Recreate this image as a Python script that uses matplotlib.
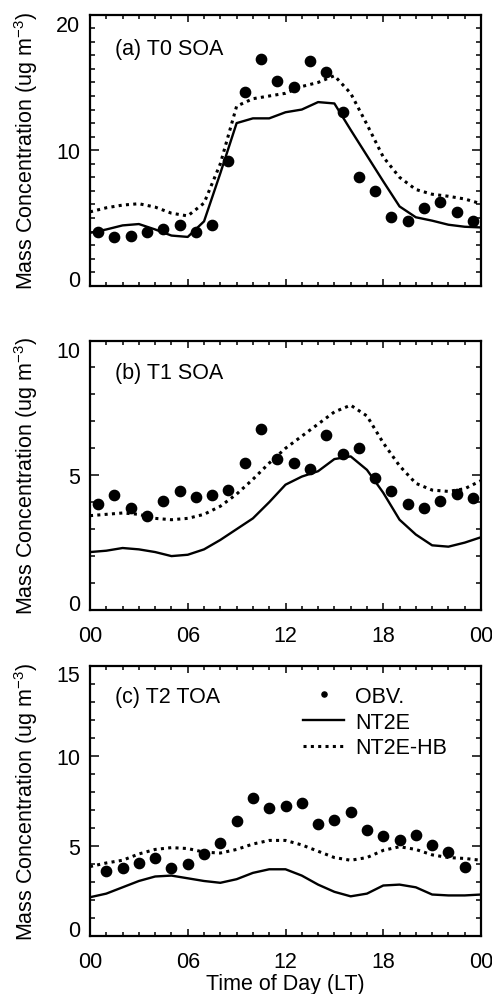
import matplotlib
matplotlib.use("Agg")
import matplotlib.pyplot as plt
import numpy as np

plt.rcParams['font.family'] = ['Liberation Sans', 'DejaVu Sans']
plt.rcParams['mathtext.fontset'] = 'custom'
plt.rcParams['mathtext.rm'] = 'Liberation Sans'
plt.rcParams['mathtext.default'] = 'regular'

# ---------------- data ----------------
hours_model = list(range(0, 25))
hours_obs_half = [h + 0.5 for h in range(24)]
hours_obs_c = list(range(1, 24))

x_ticks = [0, 6, 12, 18, 24]
x_ticklabels = ["00", "06", "12", "18", "00"]

obs_a = [4.0, 3.6, 3.65, 3.95, 4.2, 4.5, 3.95, 4.5, 9.2, 14.3, 16.7, 15.1,
         14.7, 16.6, 15.8, 12.8, 8.0, 7.0, 5.1, 4.8, 5.7, 6.15, 5.45, 4.8]
nt2e_a = [3.9, 4.15, 4.45, 4.55, 4.15, 3.7, 3.6, 4.75, 8.3, 12.0, 12.35, 12.35,
          12.8, 13.0, 13.55, 13.45, 11.5, 9.6, 7.7, 5.85, 5.05, 4.8, 4.5, 4.35, 4.3]
hb_a = [5.45, 5.75, 5.95, 6.05, 5.8, 5.35, 5.15, 6.1, 9.0, 13.25, 13.8, 14.0,
        14.2, 14.7, 15.0, 15.5, 14.2, 11.9, 9.5, 8.0, 7.1, 6.75, 6.6, 6.4, 6.05]

obs_b = [3.95, 4.25, 3.8, 3.5, 4.05, 4.4, 4.2, 4.25, 4.45, 5.45, 6.7, 5.6,
         5.45, 5.25, 6.5, 5.8, 6.0, 4.9, 4.4, 3.95, 3.8, 4.05, 4.3, 4.15]
nt2e_b = [2.15, 2.2, 2.3, 2.25, 2.15, 2.0, 2.05, 2.25, 2.6, 3.0, 3.4, 4.0,
          4.65, 4.95, 5.15, 5.6, 5.7, 5.2, 4.35, 3.35, 2.8, 2.4, 2.35, 2.5, 2.7]
hb_b = [3.5, 3.55, 3.6, 3.55, 3.4, 3.35, 3.4, 3.55, 3.85, 4.3, 4.85, 5.45,
        6.0, 6.45, 6.9, 7.35, 7.6, 7.2, 6.2, 5.35, 4.7, 4.45, 4.4, 4.5, 4.8]

obs_c = [3.6, 3.75, 4.05, 4.3, 3.75, 4.0, 4.55, 5.15, 6.35, 7.65, 7.1, 7.2,
         7.4, 6.2, 6.45, 6.9, 5.9, 5.55, 5.3, 5.6, 5.05, 4.65, 3.85]
nt2e_c = [2.15, 2.35, 2.7, 3.05, 3.3, 3.35, 3.2, 3.05, 2.95, 3.15, 3.5, 3.7,
          3.7, 3.35, 2.85, 2.45, 2.2, 2.35, 2.8, 2.85, 2.7, 2.3, 2.25, 2.25, 2.3]
hb_c = [3.85, 4.05, 4.2, 4.55, 4.8, 4.9, 4.85, 4.65, 4.6, 4.8, 5.1, 5.3,
        5.3, 5.05, 4.7, 4.35, 4.2, 4.35, 4.75, 4.95, 4.8, 4.5, 4.35, 4.3, 4.2]

panel_titles = ["(a) T0 SOA", "(b) T1 SOA", "(c) T2 TOA"]
y_limits = [(0, 20), (0, 10), (0, 15)]
y_majors = [[0, 10, 20], [0, 5, 10], [0, 5, 10, 15]]
y_minor_step = [1, 1, 1]
legend_labels = ["OBV.", "NT2E", "NT2E-HB"]
ylabel_text = r"Mass Concentration (ug m$^{-3}$)"
xlabel_text = "Time of Day (LT)"

# ---------------- figure ----------------
W, H = 492, 995
fig = plt.figure(figsize=(W / 100, H / 100), dpi=100)

def frac_axes(left, top, right, bottom):
    return fig.add_axes([left / W, 1 - bottom / H, (right - left) / W, (bottom - top) / H])

axes = [frac_axes(90, 15.7, 481, 286.7),
        frac_axes(90, 341.5, 481, 611),
        frac_axes(90, 666.5, 481, 937)]

obs_x = [hours_obs_half, hours_obs_half, hours_obs_c]
obs_y = [obs_a, obs_b, obs_c]
nt2e_y = [nt2e_a, nt2e_b, nt2e_c]
hb_y = [hb_a, hb_b, hb_c]
title_pos = [(0.064, 0.874), (0.064, 0.883), (0.064, 0.884)]

fs = 15.5
dotted = (0, (1.0, 1.4))

for i, ax in enumerate(axes):
    ax.plot(hours_model, nt2e_y[i], color='black', lw=1.7, label=legend_labels[1])
    ax.plot(hours_model, hb_y[i], color='black', lw=2.2, linestyle=dotted,
            label=legend_labels[2])
    ax.plot(obs_x[i], obs_y[i], 'o', color='black', ms=7.4, mec='black',
            label=legend_labels[0])
    ax.set_xlim(0, 24)
    ax.set_ylim(*y_limits[i])
    ax.set_xticks(x_ticks)
    ax.set_xticks(np.arange(0, 25, 1), minor=True)
    ax.set_yticks(y_majors[i])
    ax.set_yticks(np.arange(y_limits[i][0], y_limits[i][1] + 0.01, y_minor_step[i]), minor=True)
    ax.set_yticklabels([str(v) for v in y_majors[i]])
    if i == 0:
        ax.set_xticklabels([])
    else:
        ax.set_xticklabels(x_ticklabels)
    ax.tick_params(axis='both', which='both', direction='in', top=True, right=True,
                   width=1.1, labelsize=fs)
    ax.tick_params(axis='y', which='major', length=6.5, pad=7)
    ax.tick_params(axis='y', which='minor', length=3.5)
    ax.tick_params(axis='x', which='major', length=5, pad=11)
    ax.tick_params(axis='x', which='minor', length=3)
    for sp in ax.spines.values():
        sp.set_linewidth(1.6)
    # IDL-like placement of end labels
    ticks = ax.yaxis.get_major_ticks()
    ticks[-1].label1.set_va('top')
    ticks[0].label1.set_va('baseline')
    ax.text(title_pos[i][0], title_pos[i][1], panel_titles[i], transform=ax.transAxes,
            fontsize=fs, ha='left', va='center')
    ax.set_ylabel(ylabel_text, fontsize=fs)
    ax.yaxis.set_label_coords(-0.127, 0.5)

axes[2].set_xlabel(xlabel_text, fontsize=fs)
axes[2].xaxis.set_label_coords(0.5, -0.135)

h1, h2, h3 = axes[2].get_legend_handles_labels()[0]
leg = axes[2].legend([h3, h1, h2], legend_labels, loc='upper left',
                     bbox_to_anchor=(0.545, 0.925), frameon=False, fontsize=fs,
                     handlelength=1.9, handletextpad=0.5, labelspacing=0.22,
                     borderpad=0, borderaxespad=0, markerscale=0.5, numpoints=1)

fig.savefig("out.png", dpi=100)
